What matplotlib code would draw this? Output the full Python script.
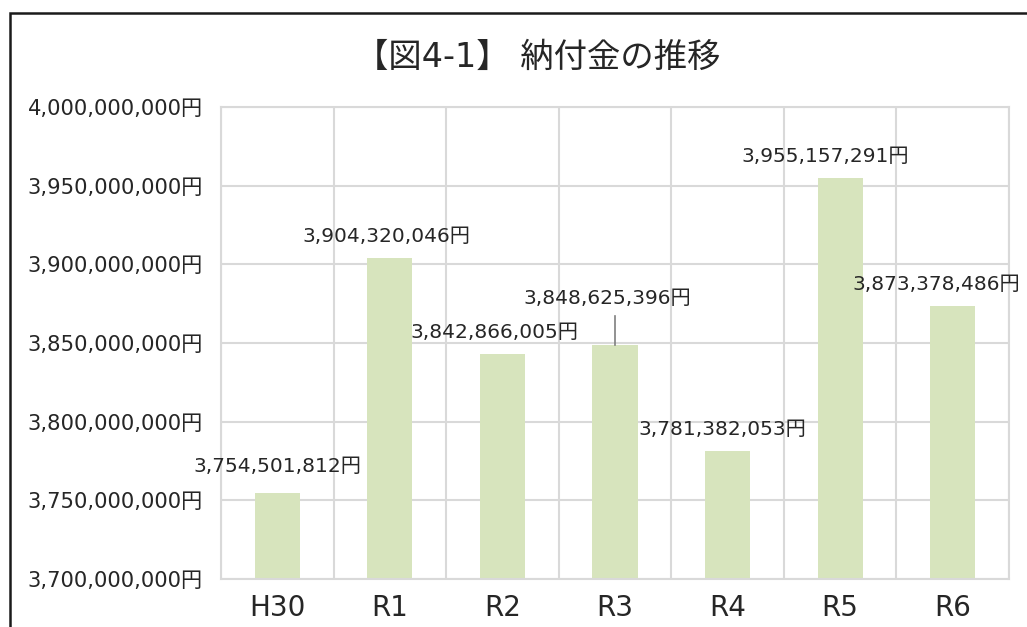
import matplotlib
matplotlib.use("Agg")
import matplotlib.pyplot as plt
from matplotlib.patches import Rectangle
from matplotlib.ticker import FuncFormatter, FixedLocator
import matplotlib.lines as mlines

plt.rcParams['font.family'] = ['DejaVu Sans', 'Noto Sans CJK JP']

categories = ["H30", "R1", "R2", "R3", "R4", "R5", "R6"]
values = [3754501812, 3904320046, 3842866005, 3848625396, 3781382053, 3955157291, 3873378486]
title = "【図4-1】 納付金の推移"
y_ticks = [3700000000, 3750000000, 3800000000, 3850000000, 3900000000, 3950000000, 4000000000]

# label offsets in pixels (layout only)
label_dx = [0, -3, -8, -8, -5, -15, -16]
label_dy = [27, 21, 22, 47, 21, 21, 22]

W, H = 1027, 627
fig = plt.figure(figsize=(W / 100, H / 100), dpi=100)
fig.patch.set_facecolor("white")

# chart border (extends beyond right/bottom edges)
fig.patches.append(Rectangle((10 / W, -0.1), 1.2, 1 - 13 / H + 0.1, transform=fig.transFigure,
                             fill=False, edgecolor="#1a1a1a", linewidth=1.8, zorder=0))

ax = fig.add_axes([221 / W, 1 - 579 / H, (1009 - 221) / W, (579 - 107) / H])
grid_c = "#d9d9d9"
x = list(range(len(categories)))
ax.bar(x, values, width=0.4, color="#d7e4bd", zorder=2)

ax.set_xlim(-0.5, len(categories) - 0.5)
ax.set_ylim(y_ticks[0], y_ticks[-1])
ax.set_yticks(y_ticks)
ax.yaxis.set_major_formatter(FuncFormatter(lambda v, p: f"{int(v):,}円"))
ax.set_xticks(x)
ax.set_xticklabels(categories)
ax.xaxis.set_minor_locator(FixedLocator([i - 0.5 for i in range(len(categories) + 1)]))
ax.grid(axis="y", which="major", color=grid_c, linewidth=1.5, zorder=1)
ax.grid(axis="x", which="minor", color=grid_c, linewidth=1.5, zorder=1)
ax.tick_params(axis="both", which="both", length=0)
ax.tick_params(axis="y", labelsize=15.2, pad=13, colors="#262626")
ax.tick_params(axis="x", labelsize=20, pad=11, colors="#262626")
for s in ax.spines.values():
    s.set_color(grid_c)
    s.set_linewidth(1.5)

for i, v in enumerate(values):
    ax.annotate(f"{v:,}円", xy=(i, v), xytext=(label_dx[i], label_dy[i]),
                textcoords="offset pixels", ha="center", va="center",
                fontsize=14.5, color="#262626", annotation_clip=False, zorder=4)

# leader line for R3 label
p0 = ax.transData.transform((3, values[3]))
ln = mlines.Line2D([p0[0] / W, p0[0] / W], [p0[1] / H, (p0[1] + 29) / H],
                   transform=fig.transFigure, color="#7f7f7f", linewidth=1.2, zorder=5)
fig.lines.append(ln)

fig.text(538 / W, 1 - 57 / H, title, ha="center", va="center", fontsize=24, color="#262626")

fig.savefig("out.png", dpi=100)
